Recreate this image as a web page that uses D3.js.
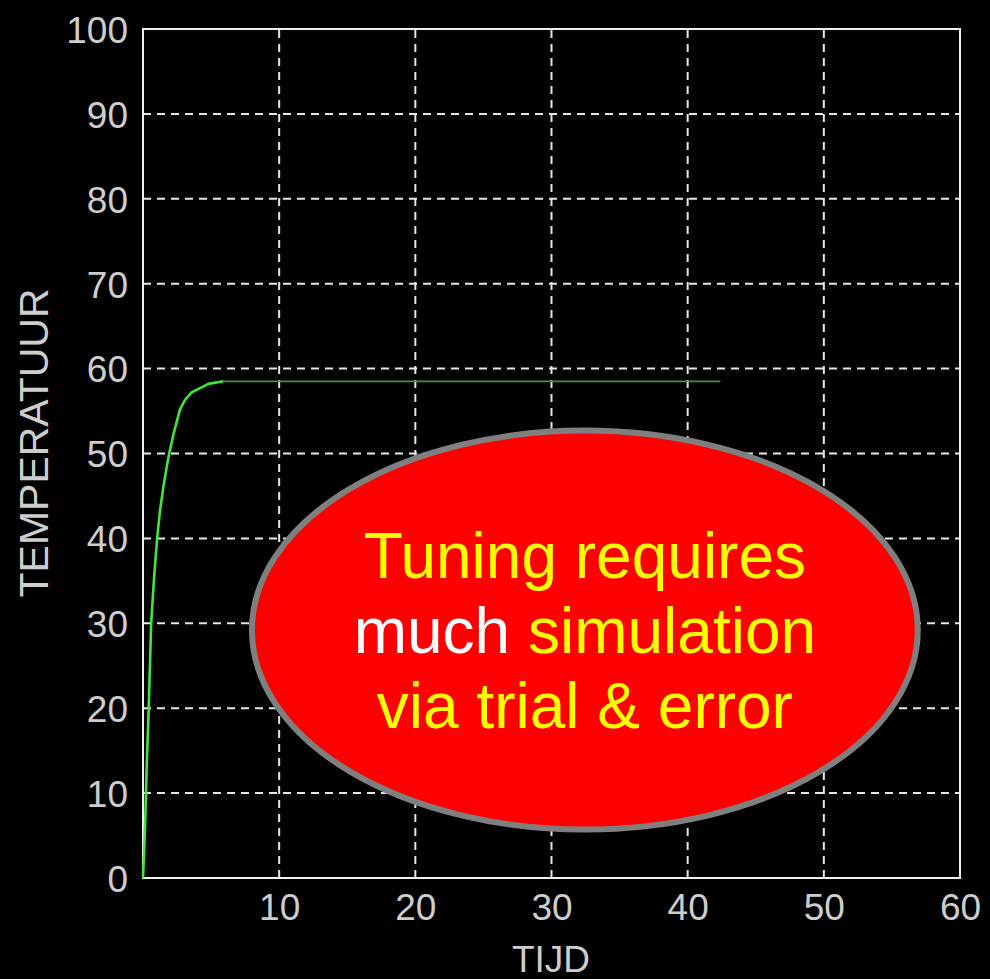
<!DOCTYPE html>
<html>
<head>
<meta charset="utf-8">
<script src="https://cdn.jsdelivr.net/npm/d3@7"></script>
<style>
  html, body { margin: 0; padding: 0; background: #000; }
  svg { display: block; }
</style>
</head>
<body>
<script>
// ---- data ----
const xTicks = [10, 20, 30, 40, 50, 60];
const yTicks = [0, 10, 20, 30, 40, 50, 60, 70, 80, 90, 100];
const gridX = [10, 20, 30, 40, 50];
const gridY = [10, 20, 30, 40, 50, 60, 70, 80, 90];
// temperature response (time, temperature), rising part
const riseTime = [0, 0.15, 0.27, 0.42, 0.6, 0.82, 1.05, 1.25, 1.5, 1.74, 1.95, 2.23, 2.47, 2.72, 3.08, 3.57, 4.19, 4.8, 5.9];
const riseTemp = [0, 6, 13, 20, 30, 35.5, 40.2, 43.3, 46.1, 48.4, 50.2, 52.2, 53.7, 55.2, 56.3, 57.2, 57.7, 58.2, 58.5];
// steady part
const holdTime = [5.9, 42.4];
const holdTemp = [58.5, 58.5];
const xLabel = "TIJD";
const yLabel = "TEMPERATUUR";
const noteLines = [
  [{t: "Tuning requires", c: "#ffff00"}],
  [{t: "much ", c: "#ffffff"}, {t: "simulation", c: "#ffff00"}],
  [{t: "via trial & error", c: "#ffff00"}]
];
// annotation ellipse in data units: centre and radii
const note = {cx: 32.45, cy: 29.2, rx: 24.45, ry: 23.5};

// ---- layout ----
const W = 990, H = 979;
const svg = d3.select("body").append("svg").attr("width", W).attr("height", H);
svg.append("rect").attr("width", W).attr("height", H).attr("fill", "#000");

const x = d3.scaleLinear().domain([0, 60]).range([143, 960]);
const y = d3.scaleLinear().domain([0, 100]).range([878, 29]);

const font = "'Liberation Sans', Arial, sans-serif";
const tickColor = "#cdcdcd";

// grid
const g = svg.append("g");
g.selectAll(".gx").data(gridX).enter().append("line")
  .attr("x1", d => x(d)).attr("x2", d => x(d))
  .attr("y1", y(0)).attr("y2", y(100))
  .attr("stroke", "#e6e6e6").attr("stroke-width", 2)
  .attr("stroke-dasharray", "8,6");
g.selectAll(".gy").data(gridY).enter().append("line")
  .attr("y1", d => y(d)).attr("y2", d => y(d))
  .attr("x1", x(0)).attr("x2", x(60))
  .attr("stroke", "#e6e6e6").attr("stroke-width", 2)
  .attr("stroke-dasharray", "8,6");

// frame
svg.append("rect")
  .attr("x", x(0)).attr("y", y(100))
  .attr("width", x(60) - x(0)).attr("height", y(0) - y(100))
  .attr("fill", "none").attr("stroke", "#f0f0f0").attr("stroke-width", 2);

// tick labels via axes
const ax = svg.append("g").attr("transform", `translate(0,${y(0)})`)
  .call(d3.axisBottom(x).tickValues(xTicks).tickSize(0).tickPadding(16));
const ay = svg.append("g").attr("transform", `translate(${x(0)},0)`)
  .call(d3.axisLeft(y).tickValues(yTicks).tickSize(0).tickPadding(15));
[ax, ay].forEach(a => {
  a.select(".domain").remove();
  a.selectAll("text").attr("fill", tickColor)
    .style("font-family", font).style("font-size", "37px");
});
ay.selectAll("text").attr("dy", "0.36em");

// axis titles
svg.append("text").text(xLabel)
  .attr("x", 551).attr("y", 972).attr("text-anchor", "middle")
  .attr("fill", tickColor).style("font-family", font).style("font-size", "37px");
svg.append("text").text(yLabel)
  .attr("transform", `translate(48,443) rotate(-90)`)
  .attr("text-anchor", "middle")
  .attr("fill", tickColor).style("font-family", font).style("font-size", "41px");

// response line
const line = d3.line().x(d => x(d[0])).y(d => y(d[1]));
svg.append("path").datum(holdTime.map((t, i) => [t, holdTemp[i]]))
  .attr("d", line).attr("fill", "none")
  .attr("stroke", "#3a9a2a").attr("stroke-width", 1.6);
svg.append("path").datum(riseTime.map((t, i) => [t, riseTemp[i]]))
  .attr("d", line).attr("fill", "none")
  .attr("stroke", "#3ee83a").attr("stroke-width", 2.6)
  .attr("stroke-linejoin", "round");

// annotation ellipse
const ecx = x(note.cx), ecy = y(note.cy);
svg.append("ellipse")
  .attr("cx", ecx).attr("cy", ecy)
  .attr("rx", x(note.rx) - x(0)).attr("ry", y(0) - y(note.ry))
  .attr("fill", "#ff0000").attr("stroke", "#7f7f7f").attr("stroke-width", 6);

const tt = svg.append("text").attr("text-anchor", "middle")
  .style("font-family", font).style("font-size", "64px");
noteLines.forEach((ln, i) => {
  const first = tt.append("tspan").attr("x", ecx).attr("y", 578 + i * 75);
  ln.forEach((p, j) => {
    const s = j === 0 ? first : tt.append("tspan");
    s.text(p.t).attr("fill", p.c).style("white-space", "pre");
  });
});
</script>
</body>
</html>
